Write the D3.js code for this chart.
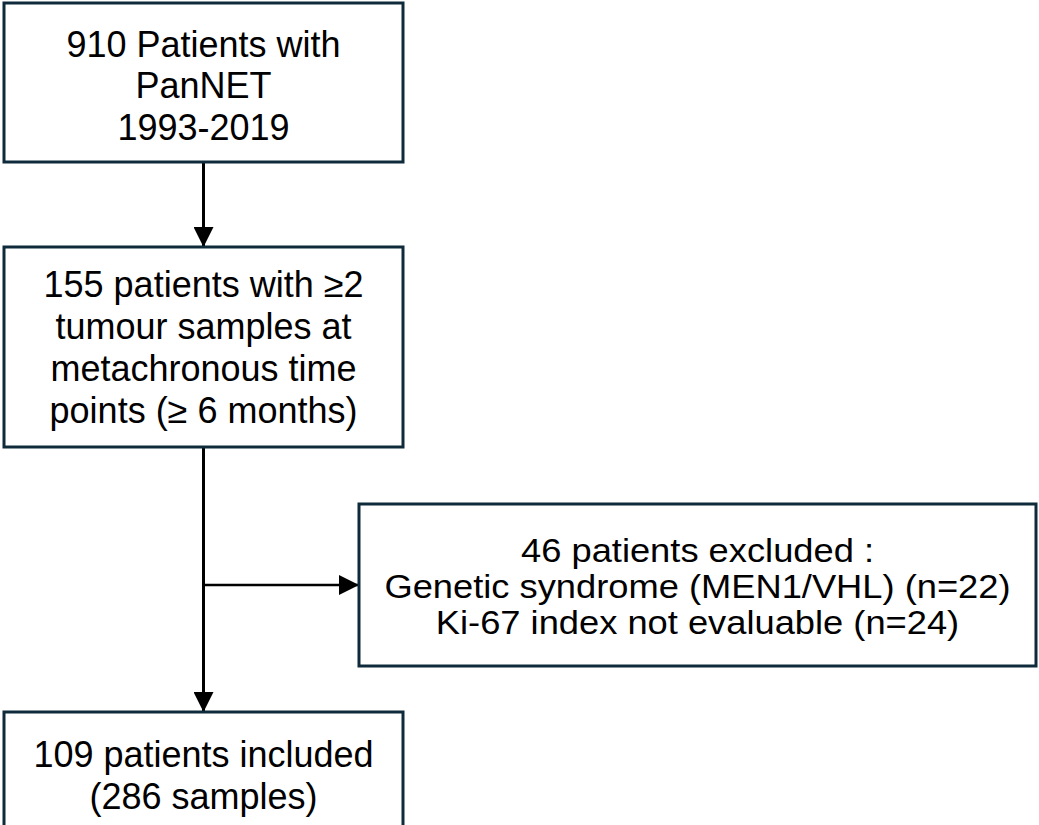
<!DOCTYPE html>
<html>
<head>
<meta charset="utf-8">
<script src="https://cdn.jsdelivr.net/npm/d3@7"></script>
<style>
  html, body { margin: 0; padding: 0; background: #fff; overflow: hidden; }
  text { font-family: "Liberation Sans", Arial, sans-serif; fill: #000; }
</style>
</head>
<body>
<div id="chart"></div>
<script>
// textes des boites du diagramme
const boxIds = ["start", "multi", "excluded", "included"];
const startLines = ["910 Patients with", "PanNET", "1993-2019"];
const multiLines = ["155 patients with ≥2", "tumour samples at", "metachronous time", "points (≥ 6 months)"];
const excludedLines = ["46 patients excluded :", "Genetic syndrome (MEN1/VHL) (n=22)", "Ki-67 index not evaluable (n=24)"];
const includedLines = ["109 patients included", "(286 samples)"];

const width = 1039;
const height = 825;

const svg = d3.select("#chart").append("svg")
  .attr("width", width)
  .attr("height", height);

svg.append("defs").append("marker")
  .attr("id", "arrow")
  .attr("viewBox", "0 0 10 10")
  .attr("refX", 10)
  .attr("refY", 5)
  .attr("markerUnits", "userSpaceOnUse")
  .attr("markerWidth", 20)
  .attr("markerHeight", 20)
  .attr("orient", "auto")
  .append("path")
  .attr("d", "M0,0 L10,5 L0,10 Z")
  .attr("fill", "#000");

// position des boites (layout) ; ty0 = centre du bloc de texte
const boxes = [
  { id: "start", x: 4, y: 3, w: 399, h: 159, lines: startLines, fs: 36, lh: 41.5, sx: 1, ty0: 85.5 },
  { id: "multi", x: 4, y: 247, w: 399, h: 200, lines: multiLines, fs: 36, lh: 42, sx: 1, ty0: 347 },
  { id: "excluded", x: 359, y: 504, w: 677, h: 162, lines: excludedLines, fs: 33, lh: 36, sx: 1.1, ty0: 586 },
  { id: "included", x: 4, y: 712, w: 399, h: 130, lines: includedLines, fs: 36, lh: 42, sx: 1, ty0: 775 }
];

const byId = {};
boxes.forEach(b => byId[b.id] = b);

const cx = byId.start.x + byId.start.w / 2;

// fleches
const links = svg.append("g").attr("class", "links");

links.append("line")
  .attr("x1", cx).attr("y1", byId.start.y + byId.start.h)
  .attr("x2", cx).attr("y2", byId.multi.y)
  .attr("stroke", "#000").attr("stroke-width", 3)
  .attr("marker-end", "url(#arrow)");

links.append("line")
  .attr("x1", cx).attr("y1", byId.multi.y + byId.multi.h)
  .attr("x2", cx).attr("y2", byId.included.y)
  .attr("stroke", "#000").attr("stroke-width", 3)
  .attr("marker-end", "url(#arrow)");

const midY = byId.excluded.y + byId.excluded.h / 2;
links.append("line")
  .attr("x1", cx).attr("y1", midY)
  .attr("x2", byId.excluded.x).attr("y2", midY)
  .attr("stroke", "#000").attr("stroke-width", 2.5)
  .attr("marker-end", "url(#arrow)");

// boites
const g = svg.selectAll("g.box")
  .data(boxes)
  .enter()
  .append("g")
  .attr("class", "box");

g.append("rect")
  .attr("x", d => d.x)
  .attr("y", d => d.y)
  .attr("width", d => d.w)
  .attr("height", d => d.h)
  .attr("fill", "#fff")
  .attr("stroke", "#0f2a3a")
  .attr("stroke-width", 3);

g.each(function(d) {
  const n = d.lines.length;
  const bx = d.x + d.w / 2;
  d3.select(this).selectAll("text")
    .data(d.lines)
    .enter()
    .append("text")
    .attr("text-anchor", "middle")
    .attr("font-size", d.fs)
    .attr("transform", (t, i) => {
      const ty = d.ty0 + (i - (n - 1) / 2) * d.lh + d.fs * 0.36;
      return "translate(" + bx + "," + ty + ") scale(" + d.sx + ",1)";
    })
    .text(t => t);
});
</script>
</body>
</html>
